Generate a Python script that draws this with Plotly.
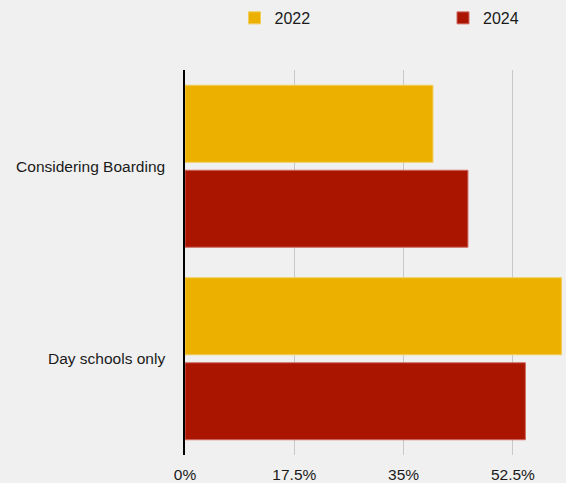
import plotly.graph_objects as go

categories = ["Considering Boarding", "Day schools only"]
series_names = ["2022", "2024"]
values_2022 = [39.7, 60.3]
values_2024 = [45.3, 54.5]
tick_vals = [0, 17.5, 35, 52.5]
tick_text = ["0%", "17.5%", "35%", "52.5%"]

colors = ["#ebb000", "#aa1500"]
edge = ["#f3cc5a", "#cf6a62"]
legends = ["legend", "legend2"]

fig = go.Figure()
for name, vals, c, e, lg in zip(series_names, [values_2022, values_2024], colors, edge, legends):
    fig.add_trace(go.Bar(
        y=categories, x=vals, name=name, orientation="h",
        marker=dict(color=c, line=dict(color=e, width=1)),
        hoverinfo="x+y", legend=lg, showlegend=True,
    ))

leg_common = dict(orientation="h", yref="container", xref="container", y=0.998,
                  yanchor="top", xanchor="left", font=dict(size=16),
                  bgcolor="rgba(0,0,0,0)")

fig.update_layout(
    width=566, height=483,
    showlegend=True,
    margin=dict(l=185, r=0, t=70, b=28),
    paper_bgcolor="#f0f0f0", plot_bgcolor="#f0f0f0",
    barmode="group", bargap=0.117, bargroupgap=0.094,
    font=dict(family="Liberation Sans, Arial, sans-serif", size=15.5, color="#1a1a1a"),
    legend=dict(x=0.4143, **leg_common),
    legend2=dict(x=0.7827, **leg_common),
    xaxis=dict(range=[0, 61], tickvals=tick_vals, ticktext=tick_text,
               showgrid=True, gridcolor="#c8c8c8", gridwidth=1,
               zeroline=False, showline=False, ticks="", ticklabelstandoff=8,
               fixedrange=True),
    yaxis=dict(autorange="reversed", showline=True, linecolor="#000000", linewidth=1.5,
               ticks="", ticklabelstandoff=15, showgrid=False),
)

fig.write_html("out.html")
